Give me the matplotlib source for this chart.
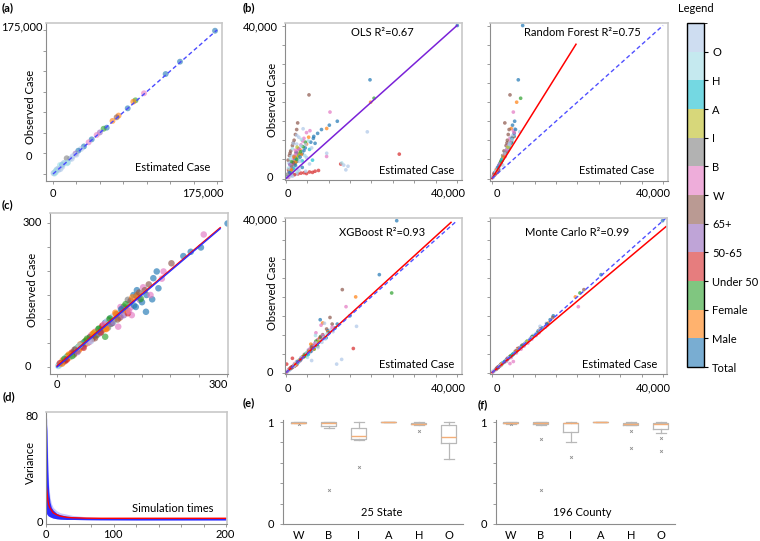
import matplotlib.pyplot as plt
import matplotlib.cm as cm
from matplotlib.colors import ListedColormap, BoundaryNorm, to_rgb

plt.rcParams['font.family'] = ['Lato', 'DejaVu Sans']
plt.rcParams['font.size'] = 8

# legend bar, bottom to top
groups = ['Total', 'Male', 'Female', 'Under 50', '50-65', '65+', 'W', 'B', 'I', 'A', 'H', 'O']
group_base = ['#1f77b4', '#ff7f0e', '#2ca02c', '#d62728', '#9467bd', '#8c564b',
              '#e377c2', '#7f7f7f', '#bcbd22', '#17becf', '#9edae5', '#aec7e8']
T, M, F, U, P, S, Wh, Bl, In, As, Hi, Ot = range(12)

# (a) all counties
a_est = [172900, 135500, 120200, 97100, 88000, 85700, 79700, 70000, 67900, 63500,
         57300, 54000, 50000, 46600, 41300, 38000, 33000, 30000, 27000, 24000,
         21000, 18000, 14600, 12000, 9500, 7500, 5500, 4000, 2500, 1200,
         3000, 6000, 10000, 15000, 20000, 25000,
         500, 1500, 3500, 8000, 11000, 16000]
a_obs = [174100, 136500, 121500, 98100, 89500, 87900, 79800, 71000, 68900, 64500,
         56300, 55000, 50500, 47400, 42100, 38500, 33500, 30500, 28300, 24800,
         21500, 18500, 19100, 13500, 10900, 10900, 6500, 5500, 3000, 1500,
         2000, 5000, 9000, 13000, 18500, 23500,
         1000, 500, 4500, 6000, 13000, 14000]
a_grp = [T, T, T, Wh, F, M, T, M, S, M,
         T, F, P, Wh, T, Wh, T, Ot, T, P,
         Ot, Ot, Bl, Hi, As, Hi, Ot, Ot, Ot, Ot,
         Hi, Ot, Ot, Hi, Ot, Ot,
         Ot, Hi, Hi, Ot, Ot, Hi]

# (b)/(c) model comparison, shared observed cases
obs_case = [40000, 25800, 21860, 20980, 19950, 17370, 14970, 13940, 13080, 14530, 12200, 6370, 3790, 3500, 2260, 5760, 2260,
            11500, 10000, 8600, 7200, 6000, 4800, 900, 1200, 1500, 1700, 1900, 2100, 1400,
            12500, 10500, 8800, 7000, 5200, 3000, 11000, 9500, 8000, 6500, 4500, 2500,
            9000, 7500, 5500, 3500, 8300, 6200, 4000, 2000, 7800, 5000, 2800, 6800, 4200, 1800, 5800, 3200,
            7600, 4600, 1500, 9800, 6000, 3000, 800, 13000, 10800, 8000, 5500, 3800, 2200, 1000, 500, 300, 200, 2940, 2400,
            9000, 7000, 6000, 4500, 4000, 3000, 1800, 1200, 700, 400,
            8500, 5000, 2500, 1300, 5300, 2600, 6500, 4300, 2000, 5800, 3300, 6700, 4000, 1600,
            10800, 6300, 4300, 2300, 9500, 7000, 5000, 9200, 7300, 5600, 3500, 1500,
            9800, 7800, 6200, 4000, 9300, 12800, 1000, 1300, 1600,
            9200, 11300, 7800, 6600, 4100, 10500, 11800, 12800, 6600, 4050,
            3200, 5200, 3900, 2700, 7400, 8200, 5600, 4400, 3600, 1100,
            2900, 1700, 4800, 600, 1900, 8900, 10200, 12000]
obs_grp = [T, T, S, F, M, Wh, T, T, M, S, Ot, U, U, Ot, Ot, Wh, U,
           S, S, S, S, S, S, U, U, U, U, U, U, U,
           Wh, Wh, Wh, Wh, Wh, Wh, T, T, T, T, T, T,
           M, M, M, M, F, F, F, F, P, P, P, Bl, Bl, Bl, In, In,
           As, As, As, Hi, Hi, Hi, Hi, Ot, Ot, Ot, Ot, Ot, Ot, Ot, Ot, T, Wh, Wh, Wh,
           Ot, Ot, Ot, Ot, Ot, Ot, Ot, Ot, Ot, Ot,
           Hi, Hi, Hi, Hi, As, As, In, In, In, Bl, Bl, P, P, P,
           M, M, M, M, F, F, F, T, T, T, T, T,
           Wh, Wh, Wh, Wh, S, S, U, U, U,
           Ot, Ot, Hi, S, S, T, T, T, Ot, Hi,
           Ot, Hi, Ot, Hi, Wh, In, M, F, P, Bl,
           T, Hi, As, Ot, Ot, Ot, Hi, Wh]
est_ols = [40070, 19650, 5380, 20600, 19800, 10290, 12000, 10140, 9520, 2730, 19020, 26500, 12800, 13500, 14000, 9500, 600,
           2200, 1900, 1500, 1100, 800, 500, 1200, 2800, 4200, 5500, 6800, 7600, 3500,
           5600, 4200, 3500, 2500, 1800, 1400, 6500, 5800, 4500, 3800, 2600, 1500,
           4800, 3300, 2700, 1900, 4000, 3000, 2100, 1100, 2900, 2000, 1200, 2300, 1600, 700, 2400, 1500,
           5500, 3800, 1300, 5200, 4400, 2400, 800, 4000, 3000, 6000, 4800, 5500, 3000, 1800, 400, 200, 600, 1500, 1200,
           2500, 3800, 1200, 3200, 700, 2000, 900, 2500, 1000, 200,
           3500, 3000, 2000, 1500, 2200, 1700, 3000, 1900, 1000, 1900, 1300, 2500, 1600, 800,
           5300, 3600, 2300, 1300, 4500, 3400, 2500, 6800, 4200, 3300, 2200, 900,
           3900, 3000, 2200, 1600, 1700, 2500, 2000, 4800, 6200,
           1700, 2500, 1500, 940, 1700, 6400, 7400, 8300, 9520, 13030,
           14500, 1000, 900, 600, 2200, 2600, 1900, 1300, 900, 300,
           3800, 2600, 6200, 1500, 4600, 4600, 3600, 4800]
est_rf = [7180, 6150, 4210, 6700, 5770, 4990, 5300, 4800, 4500, 3000, 6500, 3000, 2000, 2500, 1800, 3100, 1500,
          3800, 3600, 3300, 2800, 2500, 2200, 600, 800, 1000, 1200, 1300, 1100, 500,
          5000, 4200, 3700, 3200, 2400, 1500, 5200, 4600, 3900, 3100, 2200, 1300,
          4300, 3500, 2700, 1800, 4000, 3000, 2000, 1000, 3600, 2400, 1400, 3000, 2000, 900, 2600, 1600,
          3800, 2300, 700, 4700, 3000, 1500, 400, 5300, 4500, 3600, 2600, 1800, 1100, 500, 300, 150, 100, 1300, 1000,
          4100, 3300, 2700, 2100, 1900, 1400, 800, 600, 350, 200,
          4000, 2400, 1200, 600, 2500, 1300, 3000, 2100, 1000, 2800, 1600, 3100, 1900, 800,
          4900, 3000, 2100, 1100, 4500, 3300, 2400, 4400, 3500, 2700, 1700, 700,
          4400, 3600, 3000, 2000, 3500, 4000, 400, 700, 1100,
          4200, 4900, 3500, 3000, 2000, 4700, 5200, 5500, 3000, 2000,
          1600, 2600, 1900, 1300, 3400, 3700, 2700, 2100, 1700, 500,
          1400, 800, 2300, 300, 900, 4000, 4700, 5200]
est_xgb = [25900, 21830, 13170, 24720, 16300, 14040, 14970, 8000, 8580, 10290, 16500, 15750, 1500, 13020, 11850, 6000, 160,
           9500, 8600, 7400, 6200, 5600, 4300, 700, 1300, 1600, 2000, 2100, 2500, 1200,
           8200, 7000, 7600, 6100, 4900, 3200, 9800, 8700, 7600, 6400, 4700, 2600,
           7900, 5800, 5300, 3300, 7000, 6600, 3700, 1900, 6800, 5000, 2900, 5900, 4100, 1800, 5400, 3000,
           7300, 4500, 1500, 6900, 6000, 3100, 900, 9000, 11000, 8400, 5700, 3600, 2200, 1000, 500, 300, 200, 2500, 2000,
           8200, 6800, 5200, 4600, 3500, 2800, 1700, 1300, 700, 400,
           8000, 5300, 2300, 1200, 5000, 2700, 6000, 4400, 2100, 5300, 3400, 6300, 3900, 1600,
           9800, 6500, 4000, 2300, 8100, 7400, 4700, 9400, 7100, 5800, 3400, 1400,
           8500, 7000, 5500, 3800, 8000, 10800, 900, 1100, 1500,
           8800, 10500, 7200, 6000, 4000, 10000, 11500, 12000, 7500, 5000,
           6000, 4800, 3700, 2600, 6900, 7600, 5400, 4300, 3500, 1100,
           2700, 1800, 5200, 700, 2000, 9200, 9600, 10800]
est_mc = [39900, 25500, 21500, 20580, 19500, 20190, 14340, 13600, 13200, 14200, 11230, 6000, 3600, 3700, 2400, 5500, 2100,
          11300, 10200, 8800, 7000, 6100, 4900, 950, 1150, 1450, 1750, 1850, 2150, 1300,
          12900, 11000, 9300, 7500, 5700, 3400, 10800, 9400, 8100, 6400, 4600, 2400,
          9100, 7600, 5400, 3600, 8200, 6300, 4100, 2100, 7800, 5100, 2900, 6900, 4200, 1900, 5900, 3200,
          7700, 4700, 1500, 9600, 5900, 3000, 800, 12700, 11000, 7900, 5600, 3900, 2200, 1000, 500, 300, 200, 4990, 4200,
          9100, 7100, 6000, 4400, 4000, 3100, 1800, 1200, 700, 400,
          8600, 5000, 2500, 1300, 5300, 2600, 6600, 4300, 2000, 5800, 3300, 6700, 4000, 1600,
          10900, 6300, 4300, 2300, 9500, 7000, 5000, 9200, 7300, 5600, 3500, 1500,
          10300, 8400, 6800, 4500, 9300, 12800, 1000, 1300, 1600,
          9300, 11200, 7800, 6600, 4100, 10600, 11800, 12900, 6600, 4000,
          3200, 5200, 3900, 2700, 7600, 8200, 5600, 4400, 3600, 1100,
          2900, 1700, 4800, 600, 1900, 8900, 10200, 12500]
models = ['OLS', 'Random Forest', 'XGBoost', 'Monte Carlo']
r2 = [0.67, 0.75, 0.93, 0.99]
fit_x_end = [40000, 19650, 38600, 40700]
fit_y_end = [40000, 35100, 39560, 38440]
ident_end = [40000, 40000, 40000, 40700]

# (c) left, small counts
c_est = [301, 259, 254, 236, 223, 202, 188, 176, 179, 158, 168, 157, 141, 152, 132, 130, 108, 94, 85,
         140, 135, 128, 125, 120, 115, 112, 118, 105, 100, 98, 95, 92, 88, 85, 82, 80, 76, 74, 70,
         68, 65, 62, 60, 58, 55, 52, 50, 48, 45, 42, 40, 38, 35, 32, 30, 28, 25, 22, 20,
         18, 15, 12, 10, 8, 6, 4, 3, 2, 60, 72, 90, 110, 125, 146, 150, 162, 165, 170, 185,
         10, 14, 18, 22, 26, 30, 34, 38, 42, 46, 50, 54, 58, 62, 66, 70, 75, 80, 86, 92,
         98, 104, 112, 118, 124, 130, 136, 142, 148, 155, 15, 25, 35, 45, 55, 65, 78, 88, 100, 115,
         5, 9, 13, 17, 21, 27, 31, 36, 41, 47, 53, 57, 63, 67, 73, 77, 83, 87, 93, 97,
         103, 107, 113, 121, 127, 133, 139, 145, 60, 40]
c_obs = [299, 276, 249, 240, 231, 216, 199, 199, 164, 150, 141, 115, 160, 166, 108, 124, 84, 101, 63,
         148, 150, 132, 140, 122, 118, 125, 108, 110, 98, 105, 90, 96, 85, 92, 78, 84, 76, 80, 68,
         74, 62, 66, 58, 62, 52, 56, 48, 52, 44, 46, 38, 42, 34, 36, 28, 30, 26, 22, 24,
         17, 16, 13, 10, 9, 6, 5, 3, 2, 66, 70, 82, 102, 112, 140, 135, 172, 150, 185, 184,
         14, 12, 22, 20, 30, 26, 38, 34, 46, 42, 54, 50, 62, 58, 72, 66, 70, 86, 80, 98,
         92, 110, 104, 126, 118, 138, 128, 150, 142, 160, 19, 22, 39, 49, 51, 70, 73, 95, 94, 122,
         8, 7, 17, 15, 26, 23, 36, 31, 47, 40, 59, 52, 69, 60, 79, 72, 89, 79, 101, 91,
         113, 99, 120, 131, 116, 145, 125, 155, 54, 45]
c_grp = [T, Wh, T, T, T, S, Wh, T, T, T, T, T, T, Wh, Wh, Wh, Wh, T, F,
         S, T, Ot, Bl, T, M, Wh, P, T, M, Ot, F, S, Wh, T, M, P, T, F, U,
         Wh, M, Bl, T, F, P, M, U, S, Wh, T, M, F, U, P, M, Bl, U, T, In,
         M, U, F, T, Ot, Hi, As, Ot, Hi, Wh, Ot, Bl, M, U, P, T, S, Wh, T, Wh,
         M, U, F, M, U, S, F, M, U, P, F, M, S, U, M, F, P, U, M, F,
         S, M, P, F, M, S, T, M, F, S, Ot, Hi, Ot, As, Hi, In, Bl, Ot, Hi, P,
         U, M, F, U, M, F, S, P, M, U, F, Wh, M, S, F, U, Wh, M, F, P,
         M, S, T, F, Wh, M, T, S, Ot, Hi]
c_fit = [2, 290]
c_fit_x = [0, 288]

# (d) variance vs simulation times
d_x = [0, 1, 2, 3, 4.4, 6, 8, 12, 16, 23, 30, 45, 60, 100, 150, 200]
d_upper = [82, 78, 50, 30, 20, 15, 12, 9.5, 8, 7, 6, 5, 4.5, 4.2, 4.1, 4.0]
d_core = [80, 70, 40, 24, 16, 12, 10, 7.5, 6.5, 5.5, 5, 4.3, 4.0, 3.9, 3.9, 3.9]
d_lower = [8, 7, 6, 5.5, 5, 4.5, 4, 3.5, 3.2, 3.0, 3.0, 2.8, 2.7, 2.6, 2.6, 2.6]
d_mean = [30, 24, 18, 14, 11.6, 10, 8, 6.5, 5.5, 4.6, 4.3, 4.0, 3.9, 3.9, 3.9, 3.9]

# (e)/(f) R2 by race
races = ['W', 'B', 'I', 'A', 'H', 'O']
e_med = [0.995, 0.99, 0.867, 1.0, 0.985, 0.857]
e_q1 = [0.993, 0.96, 0.833, 0.999, 0.977, 0.793]
e_q3 = [0.998, 1.0, 0.943, 1.0, 0.99, 0.973]
e_lo = [0.99, 0.94, 0.823, 0.998, 0.975, 0.633]
e_hi = [1.0, 1.0, 1.0, 1.0, 1.0, 1.0]
e_fliers = [[0.985], [0.333], [0.557], [], [0.91], []]
f_med = [0.995, 0.99, 0.99, 1.0, 0.983, 0.983]
f_q1 = [0.99, 0.977, 0.9, 0.999, 0.973, 0.933]
f_q3 = [0.998, 1.0, 0.99, 1.0, 0.99, 0.99]
f_lo = [0.985, 0.967, 0.8, 0.998, 0.967, 0.89]
f_hi = [1.0, 1.0, 1.0, 1.0, 1.0, 1.0]
f_fliers = [[0.98], [0.838, 0.333], [0.657], [], [0.916, 0.75], [0.843, 0.717]]

W_PX, H_PX = 760, 541
fig = plt.figure(figsize=(7.6, 5.41), dpi=100)


def px_axes(l, t, r, b):
    return fig.add_axes([l / W_PX, 1 - b / H_PX, (r - l) / W_PX, (b - t) / H_PX])


def label(x, y, s, **kw):
    kw.setdefault('ha', 'center')
    kw.setdefault('va', 'center')
    fig.text(x / W_PX, 1 - y / H_PX, s, **kw)


def frame(ax, xt, yt):
    ax.set_xticks(xt)
    ax.set_yticks(yt)
    ax.set_xticklabels([])
    ax.set_yticklabels([])
    ax.tick_params(direction='out', length=2.5, width=0.6, color='#8a8a8a')
    for side in ['left', 'bottom']:
        ax.spines[side].set_color('#8c8c8c')
        ax.spines[side].set_linewidth(0.8)
    for side in ['top', 'right']:
        ax.spines[side].set_color('#c8c8c8')
        ax.spines[side].set_linewidth(1.2)


def colors(grp):
    return [group_base[g] for g in grp]


# ---- (a)
ax = px_axes(46, 23, 222, 181)
ax.set_xlim(-7470, 180335)
ax.set_ylim(-8505, 183505)
frame(ax, range(0, 175001, 25000), range(0, 175001, 25000))
ax.scatter(a_est, a_obs, c=colors(a_grp), s=18, alpha=0.6, linewidths=0)
ax.plot([0, 175000], [0, 175000], ls=(0, (3, 2)), color='#4a4aff', lw=1)
label(43, 27, '175,000', ha='right')
label(29, 157, '0')
label(53, 193, '0')
label(203, 193, '175,000')
label(31, 107, 'Observed Case', rotation=90)
label(173, 168, 'Estimated Case')

# ---- (b), (c) model panels
ests = [est_ols, est_rf, est_xgb, est_mc]
boxes = [(285, 23, 462, 180), (490, 23, 668, 181), (285, 218, 462, 374), (490, 218, 667, 374)]
xlims = [(-234, 41170), (-468, 41170), (-234, 41170), (-468, 40936)]
ylims = [(-392, 40654), (-653, 40654), (-342, 40710), (-342, 40710)]
title_xy = [(382, 33), (582, 33), (382, 233), (577, 232)]
est_xy = [(417, 171), (617, 170), (417, 364), (620, 364)]
fit_colors = ['#7a22d8', 'red', 'red', 'red']
for i in range(4):
    ax = px_axes(*boxes[i])
    ax.set_xlim(*xlims[i])
    ax.set_ylim(*ylims[i])
    frame(ax, range(0, 40001, 5000), range(0, 40001, 5000))
    ax.scatter(ests[i], obs_case, c=colors(obs_grp), s=7, alpha=0.7, linewidths=0)
    ax.plot([0, fit_x_end[i]], [0, fit_y_end[i]], color=fit_colors[i], lw=1.1)
    if i > 0:
        ax.plot([0, ident_end[i]], [0, ident_end[i]], ls=(0, (3, 2)), color='#5050ff', lw=1)
    label(*title_xy[i], f'{models[i]} R²={r2[i]:.2f}')
    label(*est_xy[i], 'Estimated Case')
    row_y = 193 if i < 2 else 388
    x0 = 288 if i % 2 == 0 else 497
    x1 = 448 if i % 2 == 0 else 653
    label(x0, row_y, '0')
    label(x1, row_y, '40,000')

label(278, 27, '40,000', ha='right')
label(270, 178, '0')
label(273, 100, 'Observed Case', rotation=90)
label(278, 220, '40,000', ha='right')
label(270, 373, '0')
label(272, 293, 'Observed Case', rotation=90)

# ---- (c) left
ax = px_axes(50, 213, 228, 374)
ax.set_xlim(-12.4, 301.8)
ax.set_ylim(-14.6, 320.8)
frame(ax, range(0, 301, 50), range(0, 301, 50))
ax.scatter(c_est, c_obs, c=colors(c_grp), s=22, alpha=0.65, linewidths=0)
ax.plot(c_fit_x, c_fit, color='red', lw=1.1)
ax.plot(c_fit_x, c_fit_x, color='#3030ff', lw=1)
label(32, 223, '300')
label(28, 367, '0')
label(57, 385, '0')
label(218, 385, '300')
label(33, 290, 'Observed Case', rotation=90)

# ---- (d)
ax = px_axes(46, 412, 227, 524)
ax.set_xlim(0, 201.1)
ax.set_ylim(-0.4, 83.8)
frame(ax, range(0, 201, 25), [])
ax.fill_between(d_x, d_lower, d_upper, color='#7070ff', alpha=0.4, lw=0)
ax.fill_between(d_x, d_lower, d_core, color='#1a1aff', alpha=0.9, lw=0)
ax.plot(d_x, d_mean, color='red', lw=1)
label(32, 417, '80')
label(40, 523, '0')
label(46, 535, '0')
label(113, 535, '100')
label(225, 535, '200')
label(30, 463, 'Variance', rotation=90)
label(173, 508, 'Simulation times')


# ---- (e), (f)
def box_panel(box, xlim, med, q1, q3, lo, hi, fl, note, note_xy):
    ax = px_axes(*box)
    stats = [dict(med=med[k], q1=q1[k], q3=q3[k], whislo=lo[k], whishi=hi[k], fliers=fl[k])
             for k in range(len(races))]
    grey = '#b8b8b8'
    ax.bxp(stats, positions=range(1, 7), widths=0.5, capwidths=0.35,
           boxprops=dict(color=grey, lw=0.9), medianprops=dict(color='#f3ae78', lw=1),
           whiskerprops=dict(color=grey, lw=0.9), capprops=dict(color=grey, lw=0.9),
           flierprops=dict(marker='x', markersize=2, markeredgecolor='#909090', markeredgewidth=0.6))
    ax.set_xlim(*xlim)
    ax.set_ylim(0, 1.02)
    ax.set_xticks(range(1, 7))
    ax.set_xticklabels(races)
    ax.set_yticks([0, 0.2, 0.4, 0.6, 0.8, 1.0])
    ax.set_yticklabels(['0', '', '', '', '', '1'])
    ax.tick_params(axis='x', length=0, pad=4, labelsize=8)
    ax.tick_params(axis='y', direction='out', length=2.5, width=0.6, color='#8a8a8a', pad=4, labelsize=8)
    for side in ['top', 'right']:
        ax.spines[side].set_visible(False)
    for side in ['left', 'bottom']:
        ax.spines[side].set_color('#8c8c8c')
        ax.spines[side].set_linewidth(0.8)
    label(*note_xy, note)


box_panel((283, 420, 463, 524), (0.467, 6.467), e_med, e_q1, e_q3, e_lo, e_hi, e_fliers, '25 State', (382, 513))
box_panel((496, 420, 675, 524), (0.5, 6.467), f_med, f_q1, f_q3, f_lo, f_hi, f_fliers, '196 County', (582, 513))

# ---- legend bar
bar_colors = [tuple(0.6 * c + 0.4 for c in to_rgb(h)) for h in group_base]
cax = px_axes(687, 23, 704, 367)
sm = cm.ScalarMappable(norm=BoundaryNorm(range(13), 12), cmap=ListedColormap(bar_colors))
cb = fig.colorbar(sm, cax=cax, ticks=range(12))
cb.set_ticklabels(groups)
cb.ax.tick_params(length=3, width=0.8, labelsize=8, pad=3)
cb.outline.set_linewidth(1.0)
label(696, 8, 'Legend')

# panel letters
for s, x, y in [('(a)', 2, 8), ('(b)', 243, 8), ('(c)', 2, 205), ('(d)', 3, 397), ('(e)', 243, 403), ('(f)', 478, 405)]:
    label(x, y, s, ha='left', fontweight='bold')

fig.savefig('out.png', dpi=100)
